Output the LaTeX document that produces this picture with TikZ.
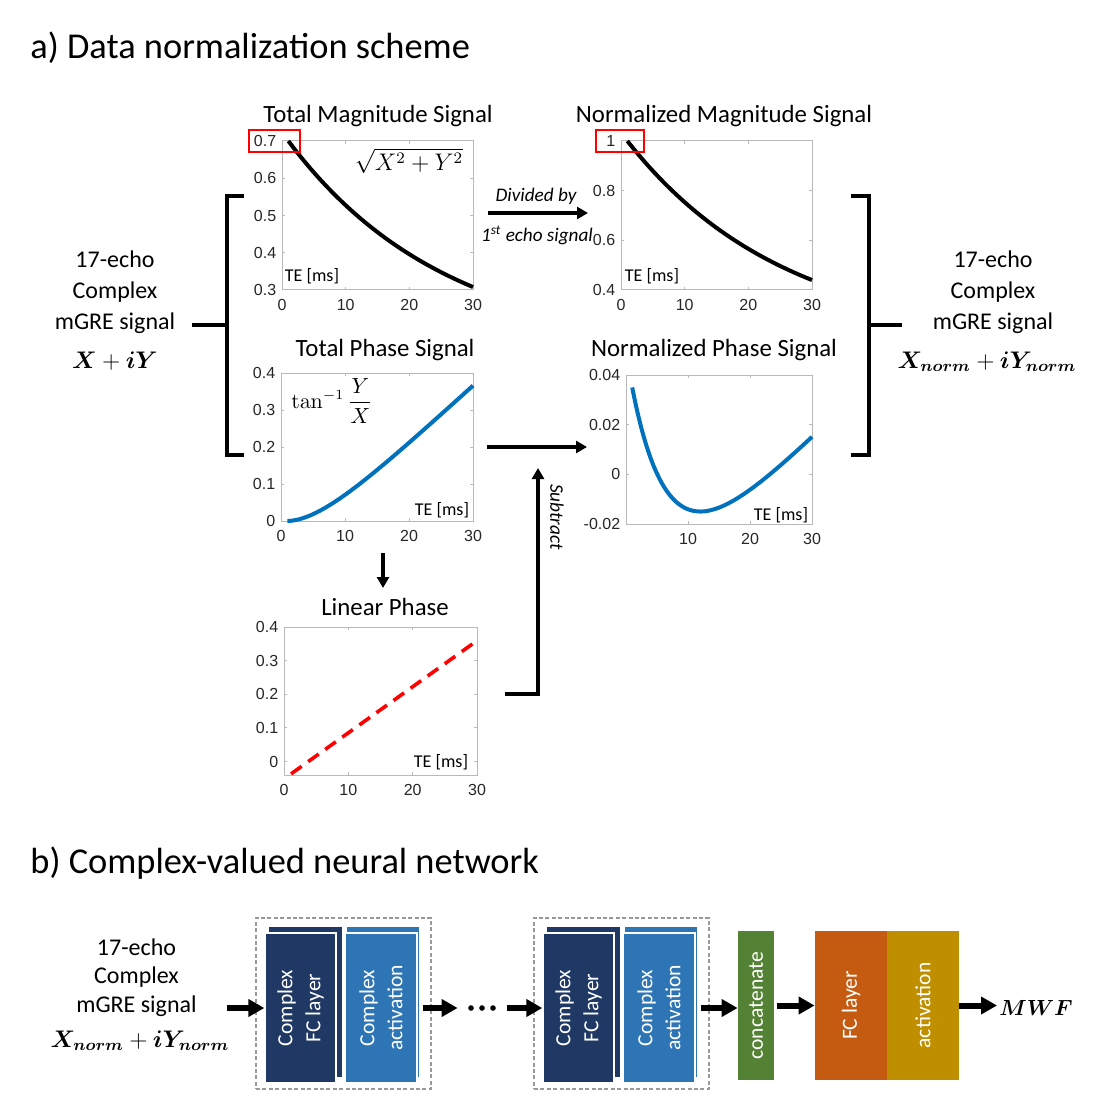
\documentclass[tikz,border=0pt]{standalone}
\usepackage{amsmath,amssymb}
\usepackage[no-math]{fontspec}
\setmainfont{Carlito}
\newfontfamily\tickfont{Liberation Sans}
\usepackage{xcolor}
\usepackage{tikz}
\usetikzlibrary{arrows.meta}
\definecolor{matblue}{RGB}{0,114,189}
\definecolor{tickgray}{RGB}{38,38,38}
\definecolor{layernavy}{RGB}{31,56,100}
\definecolor{layerblue}{RGB}{46,117,182}
\definecolor{catgreen}{RGB}{84,130,53}
\definecolor{fcorange}{RGB}{197,90,17}
\definecolor{actgold}{RGB}{191,143,0}
\tikzset{
  sectitle/.style={anchor=base west,inner sep=0pt,font=\fontsize{18.2}{21}\selectfont},
  plottitle/.style={anchor=base,inner sep=0pt,font=\fontsize{12.4}{14}\selectfont},
  sigtext/.style={anchor=base,inner sep=0pt,font=\fontsize{12}{14}\selectfont},
  sigmath/.style={anchor=base,inner sep=0pt,font=\fontsize{11.5}{13}\selectfont},
  notelab/.style={inner sep=0pt,font=\itshape\fontsize{9.6}{11}\selectfont},
  telab/.style={inner sep=0pt,font=\fontsize{9}{10}\selectfont},
  ylab/.style={anchor=east,inner sep=0pt,xshift=-2.7pt,text=tickgray,font=\tickfont\fontsize{8}{9}\selectfont},
  xlab/.style={anchor=north,inner sep=0pt,yshift=-4.5pt,text=tickgray,font=\tickfont\fontsize{8}{9}\selectfont},
  axisbox/.style={draw=gray!55,line width=0.5pt},
  magcurve/.style={line width=2pt,black},
  phasecurve/.style={line width=2pt,matblue},
  linphase/.style={line width=1.8pt,red,dash pattern=on 6.5pt off 4pt},
  hlbox/.style={draw=red,line width=1pt},
  bracket/.style={line width=2pt},
  flowarrow/.style={line width=2pt,-{Triangle[length=5.5pt,width=6pt]}},
  netarrow/.style={line width=3pt,-{Triangle[length=8pt,width=8.5pt]}},
  grouped/.style={draw=gray!80,line width=0.6pt,dash pattern=on 2pt off 1.2pt},
  layerbox/.style={draw=white,line width=0.7pt,minimum height=75pt,inner sep=0pt},
  headbox/.style={minimum height=74.5pt,minimum width=36pt,inner sep=0pt},
  boxlab/.style={text=white,rotate=90,align=center,font=\fontsize{10.8}{14}\selectfont}
}
\begin{document}
\begin{tikzpicture}[x=0.5pt,y=-0.5pt]
\useasboundingbox (0,0) rectangle (1114,1117);
% section titles
\node[sectitle] (titlea) at (30,59) {a) Data normalization scheme};
\node[sectitle] (titleb) at (30,873) {b) Complex-valued neural network};

% input / output signal text
\foreach \l/\y [count=\i] in {17-echo/268,Complex/299,mGRE signal/329} {
  \node[sigtext] (sigin\i) at (115,\y) {\l};
  \node[sigtext] (sigout\i) at (993,\y) {\l};
}
\node[sigmath] (sigin4) at (115,368) {$\boldsymbol{X}+\boldsymbol{iY}$};
\node[sigmath] (sigout4) at (987,368) {$\boldsymbol{X_{norm}}+\boldsymbol{iY_{norm}}$};

% brackets
\draw[bracket] (244,196) -- (227,196) -- (227,455) -- (244,455);
\draw[bracket] (192,325) -- (227,325);
\draw[bracket] (851,196) -- (869,196) -- (869,455) -- (851,455);
\draw[bracket] (869,325) -- (902,325);

% total magnitude
\node[plottitle] (magtitle) at (378,123) {Total Magnitude Signal};
\begin{scope}[shift={(282,290)},x=3.1833pt,y=186.25pt]
  \draw[axisbox] (0,0) rectangle (30,0.4);
  \foreach \t in {10,20} {\draw[axisbox] (\t,0) -- ++(0,1.5pt) (\t,0.4) -- ++(0,-1.5pt);}
  \foreach \v in {0.1,0.2,0.3} {\draw[axisbox] (0,\v) -- ++(1.5pt,0) (30,\v) -- ++(-1.5pt,0);}
  \foreach \v/\l [count=\i] in {0/0.3,0.1/0.4,0.2/0.5,0.3/0.6,0.4/0.7} {\node[ylab] (magy\i) at (0,\v) {\l};}
  \foreach \t [count=\i] in {0,10,20,30} {\node[xlab] (magx\i) at (\t,0) {\t};}
  \draw[magcurve] plot[domain=1:30,samples=60,smooth] (\x,{0.7*(0.8157*exp(-(\x-1)/25)+0.1843)-0.3});
\end{scope}
\node[telab] (magte) at (312,276) {TE [ms]};
\node[font=\fontsize{11.5}{13}\selectfont] (magfn) at (409,161) {$\sqrt{X^2+Y^2}$};
\draw[hlbox] (249,130) rectangle (300,152);

% normalized magnitude
\node[plottitle] (nmagtitle) at (724,123) {Normalized Magnitude Signal};
\begin{scope}[shift={(621,290)},x=3.1833pt,y=124.1667pt]
  \draw[axisbox] (0,0) rectangle (30,0.6);
  \foreach \t in {10,20} {\draw[axisbox] (\t,0) -- ++(0,1.5pt) (\t,0.6) -- ++(0,-1.5pt);}
  \foreach \v in {0.2,0.4} {\draw[axisbox] (0,\v) -- ++(1.5pt,0) (30,\v) -- ++(-1.5pt,0);}
  \foreach \v/\l [count=\i] in {0/0.4,0.2/0.6,0.4/0.8,0.6/1} {\node[ylab] (nmagy\i) at (0,\v) {\l};}
  \foreach \t [count=\i] in {0,10,20,30} {\node[xlab] (nmagx\i) at (\t,0) {\t};}
  \draw[magcurve] plot[domain=1:30,samples=60,smooth] (\x,{0.8157*exp(-(\x-1)/25)+0.1843-0.4});
\end{scope}
\node[telab] (nmagte) at (652,276) {TE [ms]};
\draw[hlbox] (596,130) rectangle (644,152);

% total phase
\node[plottitle] (phtitle) at (385,357) {Total Phase Signal};
\begin{scope}[shift={(281,521)},x=3.2pt,y=185pt]
  \draw[axisbox] (0,0) rectangle (30,0.4);
  \foreach \t in {10,20} {\draw[axisbox] (\t,0) -- ++(0,1.5pt) (\t,0.4) -- ++(0,-1.5pt);}
  \foreach \v in {0.1,0.2,0.3} {\draw[axisbox] (0,\v) -- ++(1.5pt,0) (30,\v) -- ++(-1.5pt,0);}
  \foreach \v [count=\i] in {0,0.1,0.2,0.3,0.4} {\node[ylab] (phy\i) at (0,\v) {\v};}
  \foreach \t [count=\i] in {0,10,20,30} {\node[xlab] (phx\i) at (\t,0) {\t};}
  \draw[phasecurve] plot[domain=1:30,samples=80,smooth] (\x,{0.0133*(\x-1)-0.035+0.09142*exp(-(\x-1)/6)+0.002436*(\x-1)-0.05642});
\end{scope}
\node[telab] (phte) at (442,510) {TE [ms]};
\node[font=\fontsize{10.5}{12}\selectfont] (phfn) at (332,401) {$\tan^{-1}\dfrac{Y}{X}$};

% normalized phase
\node[plottitle] (nphtitle) at (714,357) {Normalized Phase Signal};
\begin{scope}[shift={(626,524)},x=3.1pt,y=1241.67pt]
  \draw[axisbox] (0,0) rectangle (30,0.06);
  \foreach \t in {10,20} {\draw[axisbox] (\t,0) -- ++(0,1.5pt) (\t,0.06) -- ++(0,-1.5pt);}
  \foreach \v in {0.02,0.04} {\draw[axisbox] (0,\v) -- ++(1.5pt,0) (30,\v) -- ++(-1.5pt,0);}
  \foreach \v/\l [count=\i] in {0/-0.02,0.02/0,0.04/0.02,0.06/0.04} {\node[ylab] (nphy\i) at (0,\v) {\l};}
  \foreach \t [count=\i] in {10,20,30} {\node[xlab] (nphx\i) at (\t,0) {\t};}
  \draw[phasecurve] plot[domain=1:30,samples=80,smooth] (\x,{0.09142*exp(-(\x-1)/6)+0.002436*(\x-1)-0.05642+0.02});
\end{scope}
\node[telab] (nphte) at (781,515) {TE [ms]};

% linear phase
\node[plottitle] (lintitle) at (385,615) {Linear Phase};
\begin{scope}[shift={(284,775)},x=3.2167pt,y=168.18pt]
  \draw[axisbox] (0,0) rectangle (30,0.44);
  \foreach \t in {10,20} {\draw[axisbox] (\t,0) -- ++(0,1.5pt) (\t,0.44) -- ++(0,-1.5pt);}
  \foreach \v in {0.04,0.14,0.24,0.34} {\draw[axisbox] (0,\v) -- ++(1.5pt,0) (30,\v) -- ++(-1.5pt,0);}
  \foreach \v/\l [count=\i] in {0.04/0,0.14/0.1,0.24/0.2,0.34/0.3,0.44/0.4} {\node[ylab] (liny\i) at (0,\v) {\l};}
  \foreach \t [count=\i] in {0,10,20,30} {\node[xlab] (linx\i) at (\t,0) {\t};}
  \draw[linphase] plot[domain=1.1:30] (\x,{0.0137*(\x-1)-0.038+0.04});
\end{scope}
\node[telab] (linte) at (441,762) {TE [ms]};

% arrows between plots
\coordinate (divfrom) at (488,213);
\coordinate (divto) at (588,213);
\draw[flowarrow] (divfrom) -- (divto);
\node[notelab,anchor=base] (divlab) at (536,202) {Divided by};
\node[notelab,anchor=base] (echolab) at (537,242) {1\textsuperscript{st} echo signal};
\coordinate (phfrom) at (487,447);
\coordinate (phto) at (587,447);
\draw[flowarrow] (phfrom) -- (phto);
\coordinate (phdown) at (383,553);
\coordinate (lintop) at (383,588);
\draw[flowarrow] (phdown) -- (lintop);
\coordinate (linout) at (505,694);
\coordinate (subup) at (538,468);
\draw[flowarrow] (linout) -| (subup);
\node[notelab,rotate=-90] (sublab) at (557,517) {Subtract};

% network input
\foreach \l/\y [count=\i] in {17-echo/955,Complex/983,mGRE signal/1012} {
  \node[sigtext] (netin\i) at (136.5,\y) {\l};
}
\node[sigmath] (netin4) at (140,1047) {$\boldsymbol{X_{norm}}+\boldsymbol{iY_{norm}}$};
\coordinate (netstart) at (227,1008);

% complex blocks
\foreach \s [count=\g] in {0,278} {
  \node[grouped,minimum width=87.5pt,minimum height=85.5pt] (grp\g) at (343.5+\s,1003.5) {};
  \fill[layernavy] (269+\s,927) rectangle (342+\s,1077);
  \fill[layerblue] (347+\s,927) rectangle (419+\s,1077);
  \node[layerbox,fill=layernavy,minimum width=35.5pt] (fc\g) at (300.5+\s,1008) {};
  \node[layerbox,fill=layerblue,minimum width=36pt] (act\g) at (381+\s,1008) {};
  \node[boxlab] (fclab\g) at (fc\g) {Complex\\FC layer};
  \node[boxlab] (actlab\g) at (act\g) {Complex\\activation};
}
\node[minimum width=24.5pt,inner sep=0pt] (dots) at (482.5,1008) {};
\foreach \d in {471,482,493} {\fill (\d,1008) circle (2.8);}

% real-valued head
\node[headbox,fill=catgreen,minimum width=18pt] (concat) at (756,1005.5) {};
\node[boxlab] (concatlab) at (concat) {concatenate};
\node[headbox,fill=fcorange] (fc3) at (851,1005.5) {};
\node[boxlab] (fclab3) at (fc3) {FC layer};
\node[headbox,fill=actgold] (act3) at (923,1005.5) {};
\node[boxlab] (actlab3) at (act3) {activation};
\node[anchor=base,font=\fontsize{11}{12}\selectfont] (mwf) at (1036,1015) {$\boldsymbol{MWF}$};
\coordinate (mwfin) at (997,1005.5);

% network arrows
\draw[netarrow] (netstart) -- (fc1.west);
\draw[netarrow] ([xshift=2.5pt]act1.east) -- (dots.west);
\draw[netarrow] (dots.east) -- (fc2.west);
\draw[netarrow] ([xshift=2.5pt]act2.east) -- (act2.east -| concat.west);
\draw[netarrow] ([xshift=1.5pt]concat.east) -- (fc3.west);
\draw[netarrow] (act3.east) -- (mwfin);
\end{tikzpicture}
\end{document}
